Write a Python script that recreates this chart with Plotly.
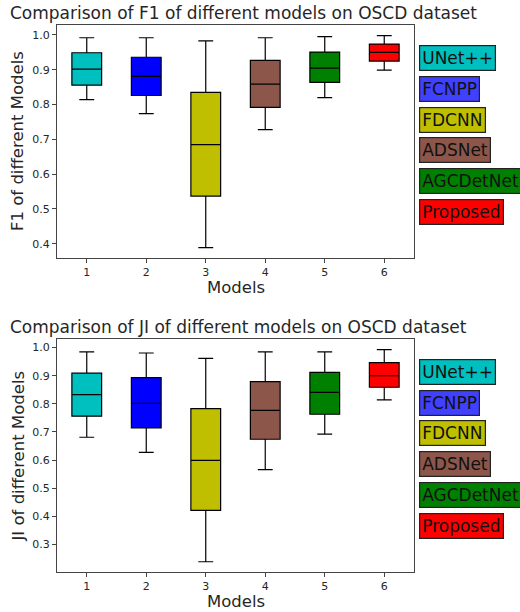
import plotly.graph_objects as go

# ---------------- data ----------------
positions = [1, 2, 3, 4, 5, 6]
models = ["UNet++", "FCNPP", "FDCNN", "ADSNet", "AGCDetNet", "Proposed"]
box_colors = ["#00bfbf", "#0000ff", "#bfbf00", "#8c564b", "#008000", "#ff0000"]
legend_colors = ["#00bfbf", "#4040ff", "#bfbf00", "#8c564b", "#008000", "#ff0000"]

f1_low = [0.814, 0.774, 0.389, 0.728, 0.820, 0.899]
f1_q1 = [0.856, 0.826, 0.537, 0.792, 0.864, 0.925]
f1_med = [0.902, 0.881, 0.685, 0.859, 0.905, 0.950]
f1_q3 = [0.949, 0.936, 0.835, 0.927, 0.951, 0.974]
f1_high = [0.992, 0.992, 0.983, 0.992, 0.995, 0.998]

ji_low = [0.681, 0.627, 0.238, 0.566, 0.692, 0.814]
ji_q1 = [0.756, 0.714, 0.421, 0.674, 0.763, 0.859]
ji_med = [0.833, 0.802, 0.599, 0.777, 0.841, 0.900]
ji_q3 = [0.909, 0.893, 0.783, 0.879, 0.912, 0.947]
ji_high = [0.985, 0.981, 0.962, 0.985, 0.985, 0.993]

f1_ticks = [0.4, 0.5, 0.6, 0.7, 0.8, 0.9, 1.0]
ji_ticks = [0.3, 0.4, 0.5, 0.6, 0.7, 0.8, 0.9, 1.0]

W, H = 520, 612
FONT = "DejaVu Sans"

fig = go.Figure()


def add_boxes(xaxis, yaxis, low, q1, med, q3, high):
    for i, p in enumerate(positions):
        fig.add_trace(go.Box(
            x=[p], q1=[q1[i]], median=[med[i]], q3=[q3[i]],
            lowerfence=[low[i]], upperfence=[high[i]],
            width=0.5, whiskerwidth=0.5,
            fillcolor=box_colors[i],
            line=dict(color="black", width=1.2),
            boxpoints=False, showlegend=False, hoverinfo="skip",
            xaxis=xaxis, yaxis=yaxis,
        ))


add_boxes("x", "y", f1_low, f1_q1, f1_med, f1_q3, f1_high)
add_boxes("x2", "y2", ji_low, ji_q1, ji_med, ji_q3, ji_high)

axis_common = dict(
    showline=True, mirror=True, linecolor="#444", linewidth=1,
    ticks="outside", ticklen=4, tickcolor="#444",
    showgrid=False, zeroline=False,
    tickfont=dict(family=FONT, size=11, color="#262626"),
)

top_dom = [1 - 258 / H, 1 - 25 / H]
bot_dom = [1 - 572 / H, 1 - 339.3 / H]
x_dom = [57 / W, 414 / W]

fig.update_layout(
    width=W, height=H,
    margin=dict(l=0, r=0, t=0, b=0),
    plot_bgcolor="white", paper_bgcolor="white",
    font=dict(family=FONT, color="#262626"),
    xaxis=dict(domain=x_dom, anchor="y", range=[0.5, 6.5],
               tickvals=positions, ticktext=[str(p) for p in positions], **axis_common),
    yaxis=dict(domain=top_dom, anchor="x", range=[0.359, 1.0287],
               tickvals=f1_ticks, ticktext=[f"{t:.1f}" for t in f1_ticks], **axis_common),
    xaxis2=dict(domain=x_dom, anchor="y2", range=[0.5, 6.5],
                tickvals=positions, ticktext=[str(p) for p in positions], **axis_common),
    yaxis2=dict(domain=bot_dom, anchor="x2", range=[0.2015, 1.0297],
                tickvals=ji_ticks, ticktext=[f"{t:.1f}" for t in ji_ticks], **axis_common),
)

ann = []
TS = 16.5
TT = 17
LS = 17
# titles
ann.append(dict(text="Comparison of F1 of different models on OSCD dataset",
                x=8 / W, y=1 - 13 / H, xref="paper", yref="paper",
                xanchor="left", yanchor="middle", showarrow=False,
                font=dict(family=FONT, size=TT, color="#262626")))
ann.append(dict(text="Comparison of JI of different models on OSCD dataset",
                x=8 / W, y=1 - 327 / H, xref="paper", yref="paper",
                xanchor="left", yanchor="middle", showarrow=False,
                font=dict(family=FONT, size=TT, color="#262626")))
# x labels
for yc in (287, 601):
    ann.append(dict(text="Models", x=235.5 / W, y=1 - yc / H, xref="paper", yref="paper",
                    xanchor="center", yanchor="middle", showarrow=False,
                    font=dict(family=FONT, size=TS, color="#262626")))
# y labels
ann.append(dict(text="F1 of different Models", x=17.5 / W, y=1 - 141.5 / H,
                xref="paper", yref="paper", xanchor="center", yanchor="middle",
                textangle=-90, showarrow=False,
                font=dict(family=FONT, size=TS, color="#262626")))
ann.append(dict(text="JI of different Models", x=17.5 / W, y=1 - 456 / H,
                xref="paper", yref="paper", xanchor="center", yanchor="middle",
                textangle=-90, showarrow=False,
                font=dict(family=FONT, size=TS, color="#262626")))

# legend-like labels
for start in (58, 371.7):
    for i, m in enumerate(models):
        yc = start + i * 30.8
        ann.append(dict(text=m, x=419 / W, y=1 - yc / H, xref="paper", yref="paper",
                        xanchor="left", yanchor="middle", showarrow=False,
                        bgcolor=legend_colors[i], bordercolor="#222", borderwidth=1.2,
                        borderpad=2,
                        font=dict(family=FONT, size=LS, color="#111")))

fig.update_layout(annotations=ann)

fig.write_html("out.html", config={"displayModeBar": False},
               post_script="document.body.style.margin='0';document.body.style.overflow='hidden';")
